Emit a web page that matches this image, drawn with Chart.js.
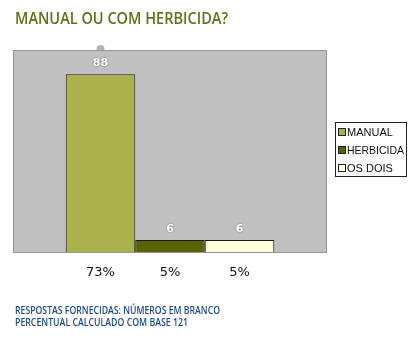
<!DOCTYPE html>
<html>
<head>
<meta charset="utf-8">
<script src="https://cdn.jsdelivr.net/npm/chart.js@4/dist/chart.umd.min.js"></script>
<style>
  html, body { margin: 0; padding: 0; background: #fff; }
  #wrap { width: 410px; height: 346px; position: relative; }
</style>
</head>
<body>
<div id="wrap"><canvas id="chart" width="410" height="346"></canvas></div>
<script>
// respostas por tipo de capina
const categories = ['MANUAL', 'HERBICIDA', 'OS DOIS'];
const answers = [88, 6, 6];
const barColors = ['#aab24c', '#5a6300', '#ffffdc'];
const baseTotal = 121;
const yTicks = [0, 100];

const titleText = 'MANUAL OU COM HERBICIDA?';
const footerLines = ['RESPOSTAS FORNECIDAS: NÚMEROS EM BRANCO', 'PERCENTUAL CALCULADO COM BASE 121'];

// gray plot panel behind the bars
const panelPlugin = {
  id: 'panel',
  beforeDatasetsDraw(chart) {
    const { ctx, chartArea: a } = chart;
    ctx.save();
    // small knob on top of the panel
    const m0 = chart.getDatasetMeta(0).data[0];
    ctx.fillStyle = '#b3b3b3';
    ctx.beginPath();
    ctx.arc(m0.x, a.top - 1, 4, 0, Math.PI * 2);
    ctx.fill();
    ctx.fillStyle = '#c0c0c0';
    ctx.fillRect(a.left, a.top, a.right - a.left, a.bottom - a.top);
    ctx.strokeStyle = '#969696';
    ctx.lineWidth = 1;
    ctx.strokeRect(a.left + 0.5, a.top + 0.5, a.right - a.left - 1, a.bottom - a.top);
    ctx.restore();
  }
};

// title, value labels, percentages, legend, notes
const textPlugin = {
  id: 'texts',
  afterDraw(chart) {
    const { ctx } = chart;
    ctx.save();

    ctx.fillStyle = '#5f7219';
    ctx.font = '600 16px "Open Sans"';
    ctx.textAlign = 'left';
    ctx.textBaseline = 'alphabetic';
    ctx.fillText(titleText, 15, 24, 213);

    chart.data.datasets.forEach((ds, i) => {
      const bar = chart.getDatasetMeta(i).data[0];
      const v = ds.data[0];
      ctx.textAlign = 'center';
      ctx.textBaseline = 'middle';
      ctx.font = 'bold 11px "DejaVu Sans"';
      ctx.shadowColor = 'rgba(0,0,0,0.45)';
      ctx.shadowBlur = 2;
      ctx.fillStyle = '#ffffff';
      ctx.fillText(String(v), bar.x, bar.y - 11);
      ctx.shadowColor = 'transparent';
      ctx.shadowBlur = 0;

      ctx.fillStyle = '#111111';
      ctx.font = '13px "DejaVu Sans"';
      ctx.fillText(Math.round(v / baseTotal * 100) + '%', bar.x, 273);
    });

    // legend box
    const lx = 335, ly = 122, lw = 71, lh = 54;
    ctx.fillStyle = '#ffffff';
    ctx.fillRect(lx, ly, lw, lh);
    ctx.strokeStyle = '#222';
    ctx.lineWidth = 1;
    ctx.strokeRect(lx + 0.5, ly + 0.5, lw, lh);
    chart.data.datasets.forEach((ds, i) => {
      const y = ly + 10 + i * 18;
      ctx.fillStyle = ds.backgroundColor;
      ctx.fillRect(338.5, y - 3.5, 7, 7);
      ctx.strokeStyle = '#222';
      ctx.strokeRect(338.5, y - 3.5, 7, 7);
      ctx.fillStyle = '#111';
      ctx.font = '11px "Liberation Sans"';
      ctx.textAlign = 'left';
      ctx.textBaseline = 'middle';
      ctx.fillText(ds.label, 347, y + 0.5, 57);
    });

    ctx.fillStyle = '#1d4b8c';
    ctx.font = '600 10.5px "Open Sans"';
    ctx.textBaseline = 'alphabetic';
    ctx.fillText(footerLines[0], 15, 314, 205);
    ctx.fillText(footerLines[1], 15, 326, 173);
    ctx.restore();
  }
};

new Chart(document.getElementById('chart'), {
  type: 'bar',
  data: {
    labels: [''],
    datasets: categories.map((c, i) => ({
      label: c,
      data: [answers[i]],
      backgroundColor: barColors[i],
      borderColor: '#1a1a1a',
      borderWidth: 1,
      barPercentage: 1,
      categoryPercentage: 0.664
    }))
  },
  options: {
    responsive: false,
    animation: false,
    layout: { padding: { left: 13, right: 83, top: 50, bottom: 94 } },
    plugins: { legend: { display: false }, tooltip: { enabled: false } },
    scales: {
      x: { display: false },
      y: { display: false, min: yTicks[0], max: yTicks[1] }
    }
  },
  plugins: [panelPlugin, textPlugin]
});
</script>
</body>
</html>
